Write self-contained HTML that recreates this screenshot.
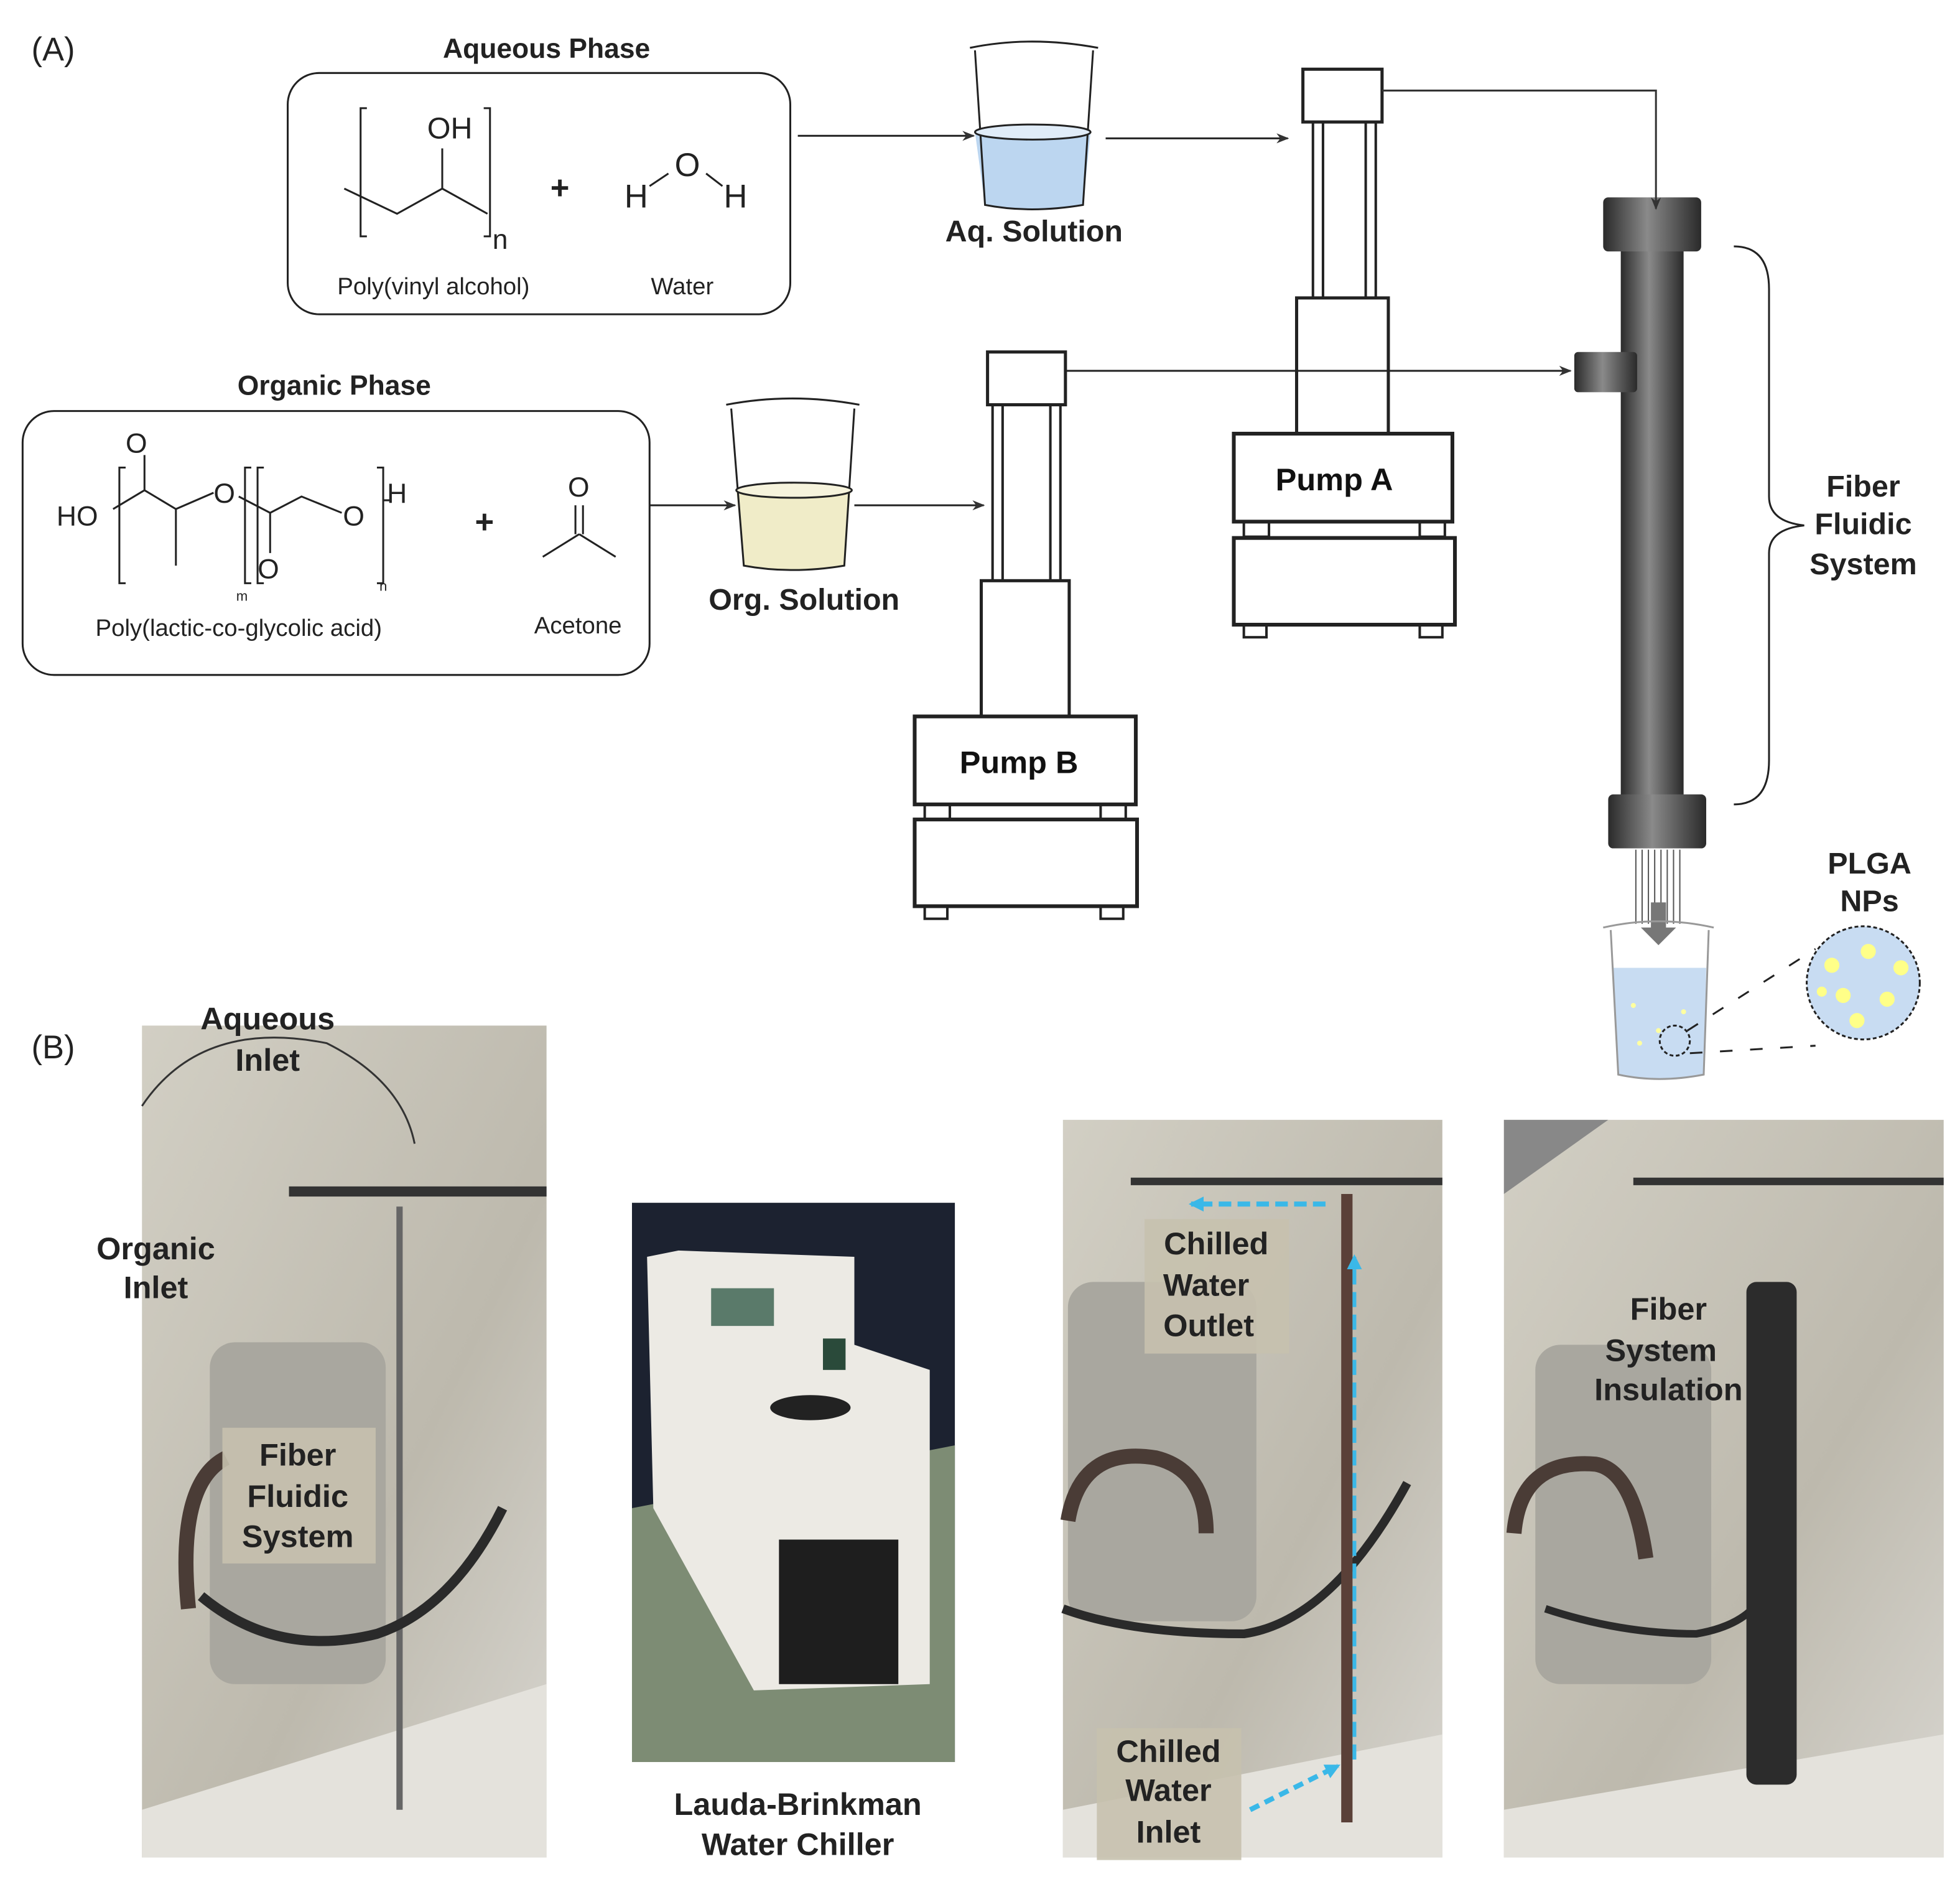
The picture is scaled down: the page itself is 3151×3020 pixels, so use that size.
<!DOCTYPE html>
<html><head><meta charset="utf-8"><style>html,body{margin:0;padding:0;background:#fff}svg{display:block}text{font-family:"Liberation Sans",sans-serif}</style></head><body>
<svg xmlns="http://www.w3.org/2000/svg" width="3151" height="3020" viewBox="0 0 1560 1495">
<defs>
<linearGradient id="col" x1="0" x2="1"><stop offset="0" stop-color="#2a2a2a"/><stop offset="0.45" stop-color="#8a8a8a"/><stop offset="1" stop-color="#2a2a2a"/></linearGradient>
<linearGradient id="wall" x1="0" x2="1" y1="0" y2="1"><stop offset="0" stop-color="#d2cfc4"/><stop offset="0.6" stop-color="#bdb9ad"/><stop offset="1" stop-color="#d8d6d0"/></linearGradient>
<marker id="ar" markerWidth="10" markerHeight="10" refX="9" refY="5" orient="auto" markerUnits="userSpaceOnUse"><path d="M0,1 L10,5 L0,9 L3,5z" fill="#333"/></marker>
<marker id="ab" markerWidth="12" markerHeight="12" refX="10" refY="6" orient="auto" markerUnits="userSpaceOnUse"><path d="M0,0 L12,6 L0,12z" fill="#3ab8e8"/></marker>
</defs>
<g fill="none" stroke="#222" stroke-width="1.5">
<text x="25" y="48" font-size="26" fill="#222" stroke="none">(A)</text>
<text x="25" y="842" font-size="26" fill="#222" stroke="none">(B)</text>
<rect x="229" y="58" width="400" height="192" rx="25"/>
<text x="435" y="46" font-size="22" font-weight="bold" text-anchor="middle" fill="#222" stroke="none">Aqueous Phase</text>
<path d="M292,86 h-5 v102 h5 M385,86 h5 v102 h-5"/>
<path d="M274,150 L316,170 L352,150 L388,170 M352,150 V118"/>
<text x="340" y="110" font-size="24" fill="#222" stroke="none">OH</text>
<text x="392" y="198" font-size="22" fill="#222" stroke="none">n</text>
<text x="438" y="158" font-size="26" font-weight="bold" fill="#222" stroke="none">+</text>
<text x="497" y="165" font-size="26" fill="#222" stroke="none">H</text>
<text x="537" y="140" font-size="26" fill="#222" stroke="none">O</text>
<text x="576" y="165" font-size="26" fill="#222" stroke="none">H</text>
<path d="M517,148 L532,138 M562,138 L575,148"/>
<text x="345" y="234" font-size="19" text-anchor="middle" fill="#222" stroke="none">Poly(vinyl alcohol)</text>
<text x="543" y="234" font-size="19" text-anchor="middle" fill="#222" stroke="none">Water</text>
<path d="M635,108 H775" marker-end="url(#ar)"/>
<path d="M776,105 L784,163 Q820,170 862,163 L868,105 Z" fill="#bcd6f0" stroke="none"/>
<path d="M776,40 L784,163 Q820,170 862,163 L870,40 M772,38 Q820,28 874,38"/>
<ellipse cx="822" cy="105" rx="46" ry="6" fill="#e0ecf8"/>
<text x="823" y="192" font-size="24" font-weight="bold" text-anchor="middle" fill="#222" stroke="none">Aq. Solution</text>
<path d="M880,110 H1025" marker-end="url(#ar)"/>
<rect x="1037" y="55" width="63" height="42" fill="#fff" stroke-width="2.5"/>
<path d="M1045,97 V237 M1053,97 V237 M1087,97 V237 M1095,97 V237" stroke-width="2"/>
<rect x="1032" y="237" width="73" height="108" fill="#fff" stroke-width="2.5"/>
<rect x="982" y="345" width="174" height="70" fill="#fff" stroke-width="3"/>
<text x="1062" y="390" font-size="25" font-weight="bold" text-anchor="middle" fill="#111" stroke="none">Pump A</text>
<path d="M990,415 v12 h20 v-12 M1130,415 v12 h20 v-12" stroke-width="2"/>
<rect x="982" y="428" width="176" height="69" fill="#fff" stroke-width="3"/>
<rect x="990" y="497" width="18" height="10" stroke-width="2"/><rect x="1130" y="497" width="18" height="10" stroke-width="2"/>
<rect x="1290" y="195" width="50" height="440" fill="url(#col)" stroke="none"/>
<rect x="1276" y="157" width="78" height="43" rx="4" fill="url(#col)" stroke="none"/>
<rect x="1253" y="280" width="50" height="32" rx="3" fill="url(#col)" stroke="none"/>
<rect x="1280" y="632" width="78" height="43" rx="4" fill="url(#col)" stroke="none"/>
<path d="M1100,72 H1318 V166" stroke="#333" marker-end="url(#ar)"/>
<path d="M848,295 H1250" marker-end="url(#ar)"/>
<path d="M1380,196 Q1408,196 1408,230 V395 Q1408,415 1436,418 Q1408,421 1408,440 V605 Q1408,640 1380,640"/>
<text x="1483" y="395" font-size="24" font-weight="bold" text-anchor="middle" fill="#222" stroke="none">Fiber</text>
<text x="1483" y="425" font-size="24" font-weight="bold" text-anchor="middle" fill="#222" stroke="none">Fluidic</text>
<text x="1483" y="457" font-size="24" font-weight="bold" text-anchor="middle" fill="#222" stroke="none">System</text>
<rect x="18" y="327" width="499" height="210" rx="25"/>
<text x="266" y="314" font-size="22" font-weight="bold" text-anchor="middle" fill="#222" stroke="none">Organic Phase</text>
<text x="45" y="418" font-size="22" fill="#222" stroke="none">HO</text>
<path d="M100,372 h-5 v92 h5 M200,372 h-5 v92 h5 M210,372 h-5 v92 h5 M300,372 h5 v92 h-5"/>
<path d="M90,405 L115,390 L140,405 L170,392 M115,390 V362 M140,405 V450 M190,395 L215,408 L240,395 L272,408 M215,408 V440 M305,398 h6"/>
<text x="100" y="360" font-size="22" fill="#222" stroke="none">O</text>
<text x="170" y="400" font-size="22" fill="#222" stroke="none">O</text>
<text x="273" y="418" font-size="22" fill="#222" stroke="none">O</text>
<text x="205" y="460" font-size="22" fill="#222" stroke="none">O</text>
<text x="308" y="400" font-size="22" fill="#222" stroke="none">H</text>
<text x="188" y="478" font-size="11" fill="#222" stroke="none">m</text>
<text x="302" y="470" font-size="11" fill="#222" stroke="none">n</text>
<text x="378" y="424" font-size="26" font-weight="bold" fill="#222" stroke="none">+</text>
<text x="452" y="395" font-size="22" fill="#222" stroke="none">O</text>
<path d="M458,402 V425 M464,402 V425 M461,425 L432,443 M461,425 L490,443"/>
<text x="190" y="506" font-size="19" text-anchor="middle" fill="#222" stroke="none">Poly(lactic-co-glycolic acid)</text>
<text x="460" y="504" font-size="19" text-anchor="middle" fill="#222" stroke="none">Acetone</text>
<path d="M517,402 H585" marker-end="url(#ar)"/>
<path d="M586,390 L592,450 Q630,457 672,450 L677,390 Z" fill="#f0ecc8" stroke="none"/>
<path d="M582,325 L592,450 Q630,457 672,450 L680,325 M578,322 Q630,312 684,322"/>
<ellipse cx="632" cy="390" rx="46" ry="6" fill="#f6f3dc"/>
<text x="640" y="485" font-size="24" font-weight="bold" text-anchor="middle" fill="#222" stroke="none">Org. Solution</text>
<path d="M680,402 H783" marker-end="url(#ar)"/>
<rect x="786" y="280" width="62" height="42" fill="#fff" stroke-width="2.5"/>
<path d="M790,322 V462 M798,322 V462 M836,322 V462 M844,322 V462" stroke-width="2"/>
<rect x="781" y="462" width="70" height="108" fill="#fff" stroke-width="2.5"/>
<rect x="728" y="570" width="176" height="70" fill="#fff" stroke-width="3"/>
<text x="811" y="615" font-size="25" font-weight="bold" text-anchor="middle" fill="#111" stroke="none">Pump B</text>
<path d="M736,640 v12 h20 v-12 M876,640 v12 h20 v-12" stroke-width="2"/>
<rect x="728" y="652" width="177" height="69" fill="#fff" stroke-width="3"/>
<rect x="736" y="721" width="18" height="10" stroke-width="2"/><rect x="876" y="721" width="18" height="10" stroke-width="2"/>
<path d="M1302,676 V735 M1307,676 V735 M1312,676 V735 M1317,676 V735 M1322,676 V735 M1327,676 V735 M1332,676 V735 M1337,676 V735" stroke="#555" stroke-width="1"/>
<path d="M1314,718 h12 v20 h8 l-14,14 l-14,-14 h8z" fill="#777" stroke="none"/>
<path d="M1284,770 L1288,855 Q1320,862 1356,855 L1358,770Z" fill="#c8dcf2" stroke="none"/>
<path d="M1282,740 L1288,855 Q1320,862 1356,855 L1360,740 M1276,738 Q1320,728 1364,738" stroke="#999"/>
<circle cx="1300" cy="800" r="2" fill="#ffffa0" stroke="none"/><circle cx="1320" cy="820" r="2" fill="#ffffa0" stroke="none"/><circle cx="1305" cy="830" r="2" fill="#ffffa0" stroke="none"/><circle cx="1340" cy="805" r="2" fill="#ffffa0" stroke="none"/>
<circle cx="1333" cy="828" r="12" stroke-dasharray="3,2"/>
<path d="M1343,820 L1445,755 M1345,838 L1445,832" stroke-dasharray="10,14"/>
<circle cx="1483" cy="782" r="45" fill="#c8dcf2" stroke-dasharray="3,2"/>
<g fill="#ffff88" stroke="none"><circle cx="1458" cy="768" r="6"/><circle cx="1487" cy="757" r="6"/><circle cx="1513" cy="770" r="6"/><circle cx="1467" cy="792" r="6"/><circle cx="1502" cy="795" r="6"/><circle cx="1478" cy="812" r="6"/><circle cx="1450" cy="789" r="4"/></g>
<text x="1488" y="695" font-size="24" font-weight="bold" text-anchor="middle" fill="#222" stroke="none">PLGA</text>
<text x="1488" y="725" font-size="24" font-weight="bold" text-anchor="middle" fill="#222" stroke="none">NPs</text>
</g>
<g>
<rect x="113" y="816" width="322" height="662" fill="url(#wall)"/>
<path d="M113,1440 L435,1340 V1478 H113z" fill="#e4e2dc"/>
<rect x="167" y="1068" width="140" height="272" rx="20" fill="#a9a79f"/>
<path d="M318,960 V1440" stroke="#666" stroke-width="5"/>
<path d="M230,948 H435" stroke="#333" stroke-width="8"/>
<path d="M160,1270 Q220,1320 300,1300 Q360,1280 400,1200" stroke="#2a2a2a" stroke-width="8" fill="none"/>
<path d="M150,1280 Q140,1180 180,1160" stroke="#4a3c36" stroke-width="12" fill="none"/>
<path d="M113,880 Q160,810 260,830 Q320,860 330,910" stroke="#333" stroke-width="1.5" fill="none"/>
<rect x="177" y="1136" width="122" height="108" fill="#c7c1ae" opacity="0.9"/>
<text font-size="25" font-weight="bold" text-anchor="middle" fill="#222"><tspan x="237" y="1166">Fiber</tspan><tspan x="237" y="1199">Fluidic</tspan><tspan x="237" y="1231">System</tspan></text>
<text font-size="25" font-weight="bold" text-anchor="middle" fill="#222"><tspan x="213" y="819">Aqueous</tspan><tspan x="213" y="852">Inlet</tspan></text>
<text font-size="25" font-weight="bold" text-anchor="middle" fill="#222"><tspan x="124" y="1002">Organic</tspan><tspan x="124" y="1033">Inlet</tspan></text>

<rect x="503" y="957" width="257" height="445" fill="#1c2230"/>
<path d="M503,1200 L760,1150 V1402 H503z" fill="#7d8c74"/>
<path d="M515,1000 L540,995 L680,1000 L680,1070 L740,1090 L740,1340 L600,1345 L520,1200z" fill="#eceae4"/>
<rect x="566" y="1025" width="50" height="30" fill="#5a7a6a"/>
<rect x="655" y="1065" width="18" height="25" fill="#2a4a3a"/>
<ellipse cx="645" cy="1120" rx="32" ry="10" fill="#222"/>
<rect x="620" y="1225" width="95" height="115" fill="#1e1e1e"/>
<text font-size="25" font-weight="bold" text-anchor="middle" fill="#222"><tspan x="635" y="1444">Lauda-Brinkman</tspan><tspan x="635" y="1476">Water Chiller</tspan></text>

<rect x="846" y="891" width="302" height="587" fill="url(#wall)"/>
<path d="M846,1440 L1148,1380 V1478 H846z" fill="#e4e2dc"/>
<rect x="850" y="1020" width="150" height="270" rx="20" fill="#a9a79f"/>
<path d="M850,1210 Q860,1150 920,1160 Q960,1170 960,1220" stroke="#4a3c36" stroke-width="12" fill="none"/>
<path d="M846,1280 Q900,1300 990,1300 Q1060,1290 1120,1180" stroke="#2a2a2a" stroke-width="7" fill="none"/>
<path d="M1072,950 V1450" stroke="#5a4038" stroke-width="9"/>
<path d="M900,940 H1148" stroke="#333" stroke-width="6"/>
<path d="M1055,958 H948" stroke="#3ab8e8" stroke-width="4" stroke-dasharray="10,5" marker-end="url(#ab)"/>
<path d="M1078,1400 V1000" stroke="#3ab8e8" stroke-width="3" stroke-dasharray="12,6" marker-end="url(#ab)"/>
<path d="M995,1440 L1065,1405" stroke="#3ab8e8" stroke-width="4" stroke-dasharray="8,5" marker-end="url(#ab)"/>
<rect x="911" y="970" width="115" height="107" fill="#c7c1ae" opacity="0.9"/>
<text font-size="25" font-weight="bold" text-anchor="middle" fill="#222"><tspan x="968" y="998">Chilled</tspan><tspan x="960" y="1031">Water</tspan><tspan x="962" y="1063">Outlet</tspan></text>
<rect x="873" y="1375" width="115" height="105" fill="#c7c1ae" opacity="0.9"/>
<text font-size="25" font-weight="bold" text-anchor="middle" fill="#222"><tspan x="930" y="1402">Chilled</tspan><tspan x="930" y="1433">Water</tspan><tspan x="930" y="1466">Inlet</tspan></text>

<rect x="1197" y="891" width="350" height="587" fill="url(#wall)"/>
<path d="M1197,891 L1280,891 L1197,950z" fill="#888"/>
<path d="M1197,1440 L1547,1380 V1478 H1197z" fill="#e4e2dc"/>
<rect x="1222" y="1070" width="140" height="270" rx="20" fill="#a9a79f"/>
<path d="M1300,940 H1547" stroke="#333" stroke-width="6"/>
<path d="M1205,1220 Q1210,1160 1270,1165 Q1300,1170 1310,1240" stroke="#4a3c36" stroke-width="12" fill="none"/>
<path d="M1230,1280 Q1290,1300 1350,1300 Q1380,1295 1395,1280" stroke="#2a2a2a" stroke-width="6" fill="none"/>
<rect x="1390" y="1020" width="40" height="400" rx="8" fill="#2c2c2c"/>
<text font-size="25" font-weight="bold" text-anchor="middle" fill="#222"><tspan x="1328" y="1050">Fiber</tspan><tspan x="1322" y="1083">System</tspan><tspan x="1328" y="1114">Insulation</tspan></text>
</g>
</svg>
</body></html>
